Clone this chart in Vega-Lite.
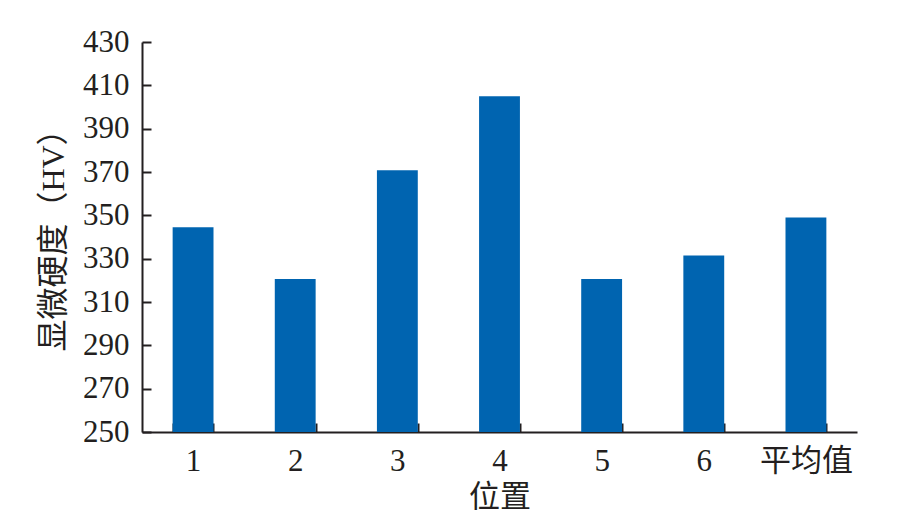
{
  "$schema": "https://vega.github.io/schema/vega-lite/v6.json",
  "width": 715,
  "height": 390,
  "autosize": {"type": "none"},
  "padding": {"left": 142, "top": 42, "right": 41, "bottom": 98},
  "background": "white",
  "data": {
    "values": [
      {"位置": "1", "硬度": 344.5},
      {"位置": "2", "硬度": 320.6},
      {"位置": "3", "硬度": 370.8},
      {"位置": "4", "硬度": 405},
      {"位置": "5", "硬度": 320.6},
      {"位置": "6", "硬度": 331.5},
      {"位置": "平均值", "硬度": 349}
    ]
  },
  "mark": {"type": "bar", "color": "#0064b0"},
  "encoding": {
    "x": {
      "field": "位置",
      "type": "nominal",
      "sort": null,
      "scale": {"paddingInner": 0.6, "paddingOuter": 0.3},
      "axis": {
        "title": "位置",
        "labelAngle": 0,
        "tickBand": "extent",
        "tickSize": -9,
        "tickWidth": 2,
        "tickColor": "#231f20",
        "domainColor": "#231f20",
        "domainWidth": 2,
        "labelFont": "Liberation Serif, Noto Sans CJK SC",
        "labelFontSize": 31,
        "labelColor": "#231f20",
        "labelPadding": 23,
        "titleFont": "Liberation Serif, Noto Sans CJK SC",
        "titleFontSize": 31,
        "titleFontWeight": "normal",
        "titleColor": "#231f20",
        "titlePadding": 6
      }
    },
    "y": {
      "field": "硬度",
      "type": "quantitative",
      "scale": {"domain": [250, 430], "nice": false, "zero": false},
      "axis": {
        "title": "显微硬度（HV）",
        "values": [250, 270, 290, 310, 330, 350, 370, 390, 410, 430],
        "grid": false,
        "tickSize": -9,
        "tickWidth": 2,
        "tickColor": "#231f20",
        "domainColor": "#231f20",
        "domainWidth": 2,
        "labelFont": "Liberation Serif",
        "labelFontSize": 31,
        "labelColor": "#231f20",
        "labelPadding": 22,
        "titleFont": "Liberation Serif, Noto Sans CJK SC",
        "titleFontSize": 32,
        "titleFontWeight": "normal",
        "titleColor": "#231f20",
        "titlePadding": 12,
        "titleY": 190,
        "titleAlign": "center"
      }
    },
    "y2": {"datum": 250}
  },
  "config": {"view": {"stroke": null}}
}
